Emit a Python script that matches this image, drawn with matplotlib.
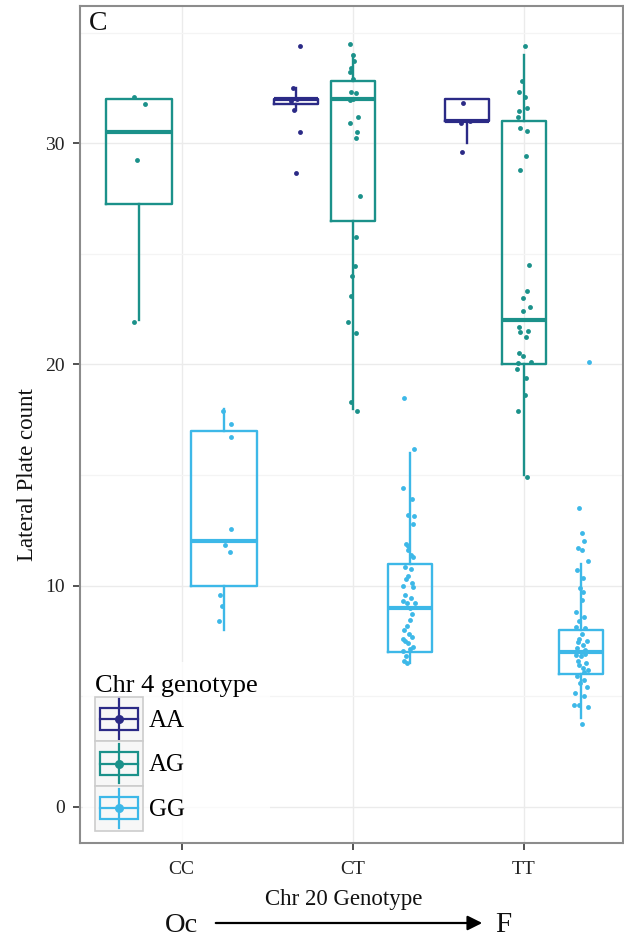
import matplotlib
matplotlib.use('Agg')
import matplotlib.pyplot as plt
from matplotlib.legend_handler import HandlerBase
from matplotlib.patches import Rectangle, FancyArrowPatch
from matplotlib.lines import Line2D
from matplotlib.ticker import MultipleLocator

plt.rcParams['font.family'] = ['Liberation Serif', 'DejaVu Serif']

# ---------------- data ----------------
chr20_levels = ['CC', 'CT', 'TT']
chr4_levels = ['AA', 'AG', 'GG']
colors = {'AA': '#2b2a86', 'AG': '#1b918a', 'GG': '#3db8e8'}

# box groups (chr20, chr4) and their summary statistics
box_groups = [('CC', 'AG'), ('CC', 'GG'),
              ('CT', 'AA'), ('CT', 'AG'), ('CT', 'GG'),
              ('TT', 'AA'), ('TT', 'AG'), ('TT', 'GG')]
box_q1 = [27.25, 10.0, 31.75, 26.5, 7.0, 31.0, 20.0, 6.0]
box_med = [30.5, 12.0, 32.0, 32.0, 9.0, 31.0, 22.0, 7.0]
box_q3 = [32.0, 17.0, 32.0, 32.8, 11.0, 32.0, 31.0, 8.0]
box_wlo = [22.0, 8.0, 31.5, 18.0, 6.5, 30.0, 15.0, 4.0]
box_whi = [32.0, 18.0, 32.5, 34.0, 16.0, 32.0, 34.0, 11.0]

# jittered points: values and horizontal jitter (category units)
pts_CC_AG = [32.1, 31.75, 29.25, 21.9]
jit_CC_AG = [-0.03, 0.035, -0.01, -0.03]

pts_CC_GG = [17.9, 17.3, 16.7, 12.55, 11.85, 11.5, 9.6, 9.1, 8.4]
jit_CC_GG = [-0.006, 0.04, 0.04, 0.04, 0.006, 0.03, -0.023, -0.012, -0.03]

pts_CT_AA = [34.4, 32.5, 32.0, 31.9, 31.5, 30.5, 28.65]
jit_CT_AA = [0.026, -0.015, 0.01, -0.025, -0.01, 0.026, 0.003]

pts_CT_AG = [34.5, 34.0, 33.7, 33.4, 33.2, 32.9, 32.3, 32.25, 32.0, 31.95,
             31.2, 30.9, 30.5, 30.25, 27.6, 25.75, 24.45, 24.0, 23.1, 21.9,
             21.4, 18.3, 17.9]
jit_CT_AG = [-0.018, 0.0, 0.006, -0.012, -0.018, 0.0, -0.012, 0.018, 0.0, -0.018,
             0.03, -0.018, 0.023, 0.018, 0.04, 0.018, 0.012, -0.006, -0.012, -0.03,
             0.018, -0.012, 0.023]

pts_CT_GG = [18.5, 16.2, 14.4, 13.9, 13.2, 13.15, 12.8, 11.9, 11.8, 11.6,
             11.4, 11.3, 10.85, 10.75, 10.45, 10.3, 10.1, 10.0, 9.95, 9.6,
             9.45, 9.3, 9.2, 9.2, 9.0, 8.7, 8.45, 8.2, 8.0, 7.8,
             7.7, 7.6, 7.5, 7.4, 7.25, 7.15, 7.05, 6.8, 6.6, 6.5]
jit_CT_GG = [-0.032, 0.026, -0.038, 0.015, -0.009, 0.026, 0.02, -0.02, -0.009, -0.009,
             0.009, 0.02, -0.026, 0.009, -0.009, -0.02, 0.015, -0.038, 0.02, -0.026,
             0.009, -0.038, -0.015, 0.032, 0.003, 0.015, 0.003, -0.015, -0.032, -0.003,
             0.015, -0.04, -0.026, -0.009, 0.02, 0.003, -0.038, -0.02, -0.032, -0.015]

pts_TT_AA = [31.8, 31.0, 30.9, 29.6]
jit_TT_AA = [-0.023, 0.018, -0.035, -0.03]

pts_TT_AG = [34.4, 32.8, 32.3, 32.1, 31.6, 31.45, 31.2, 30.7, 30.55, 29.4,
             28.8, 24.5, 23.3, 23.0, 22.6, 22.4, 21.7, 21.45, 21.5, 21.25,
             20.5, 20.4, 20.05, 20.1, 19.8, 19.4, 18.6, 17.9, 14.9]
jit_TT_AG = [0.006, -0.012, -0.03, 0.006, 0.018, -0.03, -0.035, -0.023, 0.018, 0.012,
             -0.023, 0.03, 0.018, -0.006, 0.035, -0.006, -0.03, -0.023, 0.023, 0.012,
             -0.03, -0.006, -0.035, 0.04, -0.04, 0.012, 0.006, -0.035, 0.018]

pts_TT_GG = [20.1, 13.5, 12.4, 12.0, 11.7, 11.6, 11.1, 10.7, 10.35, 9.9,
             9.7, 9.35, 8.8, 8.6, 8.4, 8.15, 8.1, 7.8, 7.6, 7.5,
             7.45, 7.3, 7.2, 7.1, 7.0, 6.9, 6.85, 6.8, 6.6, 6.5,
             6.4, 6.3, 6.2, 6.1, 5.9, 5.75, 5.6, 5.4, 5.15, 5.0,
             4.6, 4.6, 4.5, 3.75]
jit_TT_GG = [0.047, -0.012, 0.006, 0.018, -0.018, 0.006, 0.04, -0.023, 0.012, -0.006,
             0.012, 0.006, -0.03, 0.018, -0.012, -0.03, 0.023, 0.006, -0.012, 0.035,
             -0.018, 0.012, -0.023, 0.023, 0.0, 0.026, -0.03, 0.0, -0.018, 0.03,
             -0.012, 0.012, 0.04, 0.018, -0.023, 0.018, -0.006, 0.035, -0.035, 0.018,
             -0.04, -0.012, 0.04, 0.006]

points = {
    ('CC', 'AG'): (pts_CC_AG, jit_CC_AG),
    ('CC', 'GG'): (pts_CC_GG, jit_CC_GG),
    ('CT', 'AA'): (pts_CT_AA, jit_CT_AA),
    ('CT', 'AG'): (pts_CT_AG, jit_CT_AG),
    ('CT', 'GG'): (pts_CT_GG, jit_CT_GG),
    ('TT', 'AA'): (pts_TT_AA, jit_TT_AA),
    ('TT', 'AG'): (pts_TT_AG, jit_TT_AG),
    ('TT', 'GG'): (pts_TT_GG, jit_TT_GG),
}

# ---------------- figure ----------------
W, H = 624, 947
fig = plt.figure(figsize=(W / 100, H / 100), dpi=100)
ax_left, ax_right, ax_top, ax_bot = 80, 623, 6, 843
ax = fig.add_axes([ax_left / W, 1 - ax_bot / H, (ax_right - ax_left) / W, (ax_bot - ax_top) / H])

dodge_w = 1.0
box_frac = 0.77
for i, (c20, c4) in enumerate(box_groups):
    present = [g for (a, g) in box_groups if a == c20]
    n = len(present)
    k = present.index(c4)
    pos = chr20_levels.index(c20) + 1 + (k - (n - 1) / 2) * dodge_w / n
    width = box_frac * dodge_w / n
    col = colors[c4]
    stats = [dict(med=box_med[i], q1=box_q1[i], q3=box_q3[i],
                  whislo=box_wlo[i], whishi=box_whi[i], fliers=[])]
    ax.bxp(stats, positions=[pos], widths=[width], showcaps=False, showfliers=False,
           patch_artist=False, manage_ticks=False,
           boxprops=dict(color=col, linewidth=1.7),
           whiskerprops=dict(color=col, linewidth=1.7),
           medianprops=dict(color=col, linewidth=3.0, solid_capstyle='butt'),
           zorder=3)
    vals, jit = points[(c20, c4)]
    ax.plot([pos + j for j in jit], vals, 'o', color=col, markersize=3.5,
            markeredgewidth=0, zorder=4, clip_on=False)

ax.set_xlim(0.406, 3.58)
ax.set_ylim(-1.63, 36.2)
ax.set_xticks([1, 2, 3])
ax.set_xticklabels(chr20_levels)
ax.yaxis.set_major_locator(MultipleLocator(10))
ax.yaxis.set_minor_locator(MultipleLocator(5))
ax.grid(True, which='major', color='#ebebeb', linewidth=1.0, zorder=0)
ax.grid(True, which='minor', axis='y', color='#f4f4f4', linewidth=0.9, zorder=0)
ax.set_axisbelow(True)
ax.tick_params(axis='both', which='major', direction='out', length=5, width=1.2,
               color='#333333', labelsize=14, labelcolor='#222222')
ax.tick_params(axis='y', which='major', pad=6)
ax.tick_params(axis='x', which='major', pad=8)
ax.tick_params(axis='y', which='minor', length=0)
for s in ax.spines.values():
    s.set_color('#8c8c8c')
    s.set_linewidth(1.5)
    s.set_zorder(6)

ax.set_ylabel('Lateral Plate count', fontsize=16.5, color='#111111')
ax.yaxis.set_label_coords(-0.077, 0.44)
ax.set_xlabel('Chr 20 Genotype', fontsize=16.5, color='#111111')
ax.xaxis.set_label_coords(0.485, -0.055)

ax.text(0.017, 0.994, 'C', transform=ax.transAxes, fontsize=20, va='top', ha='left',
        color='#111111')


# legend with boxplot-style keys
class BoxKey(HandlerBase):
    def create_artists(self, legend, orig_handle, xdescent, ydescent, width, height,
                       fontsize, trans):
        c = orig_handle.get_color()
        x0, y0 = -xdescent, -ydescent
        bg = Rectangle((x0, y0), width, height, facecolor='#f7f7f7', edgecolor='#cccccc',
                       linewidth=1.2, transform=trans)
        cx = x0 + width / 2
        cy = y0 + height / 2
        wl = Line2D([cx, cx], [y0 + 0.06 * height, y0 + 0.94 * height], color=c,
                    linewidth=1.6, transform=trans)
        bx = Rectangle((x0 + 0.1 * width, y0 + 0.25 * height), 0.8 * width, 0.5 * height,
                       facecolor='none', edgecolor=c, linewidth=1.6, transform=trans)
        md = Line2D([x0 + 0.1 * width, x0 + 0.9 * width], [cy, cy], color=c,
                    linewidth=1.6, transform=trans)
        dt = Line2D([cx], [cy], marker='o', markersize=6.5, color=c, markeredgewidth=0,
                    transform=trans)
        return [bg, wl, bx, md, dt]


handles = [Line2D([], [], color=colors[g]) for g in chr4_levels]
leg = ax.legend(handles, chr4_levels, title='Chr 4 genotype', loc='lower left',
                bbox_to_anchor=(-0.018, -0.015), fontsize=18, title_fontsize=19,
                handler_map={Line2D: BoxKey()}, handlelength=1.9, handleheight=2.37,
                labelspacing=0.0, handletextpad=0.25, borderpad=0.5, frameon=True,
                fancybox=False, alignment='left')
leg.get_frame().set_facecolor('white')
leg.get_frame().set_edgecolor('none')
leg.get_frame().set_clip_path(ax.patch)
leg.set_zorder(5)

# Oc -> F annotation
fig.text(165 / W, 1 - 925 / H, 'Oc', fontsize=20.5, ha='left', va='center', color='#111111')
fig.text(495 / W, 1 - 925 / H, 'F', fontsize=21, ha='left', va='center', color='#111111')
fig.add_artist(FancyArrowPatch(
    (213 / W, 1 - 923 / H), (485 / W, 1 - 923 / H), transform=fig.transFigure,
    arrowstyle='-|>', mutation_scale=22, linewidth=1.6, color='black'))

fig.savefig('out.png', dpi=100)
